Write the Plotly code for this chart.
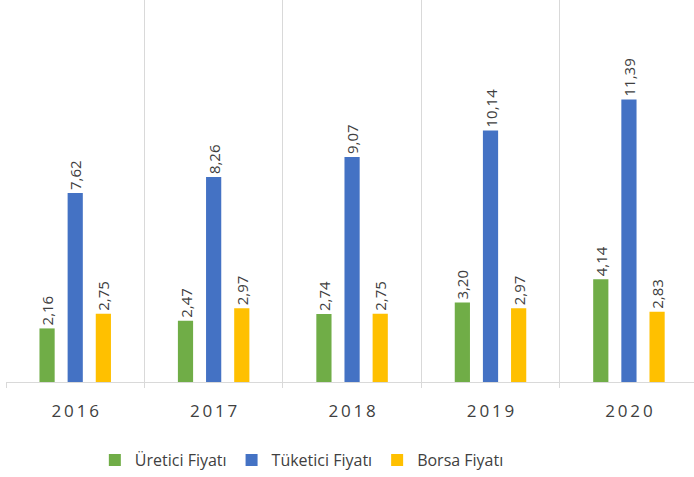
import plotly.graph_objects as go

years = ["2016", "2017", "2018", "2019", "2020"]
year_labels = ["\u2009".join(y) for y in years]
uretici = [2.16, 2.47, 2.74, 3.20, 4.14]
tuketici = [7.62, 8.26, 9.07, 10.14, 11.39]
borsa = [2.75, 2.97, 2.75, 2.97, 2.83]

series = [
    ("Üretici Fiyatı", uretici, "#70AD47"),
    ("Tüketici Fiyatı", tuketici, "#4472C4"),
    ("Borsa Fiyatı", borsa, "#FFC000"),
]

def fmt(v):
    return f"{v:.2f}".replace(".", ",")

fig = go.Figure()
for name, vals, color in series:
    fig.add_trace(go.Bar(
        x=years, y=vals, name=name,
        marker=dict(color=color, line=dict(width=0)),
        text=[fmt(v) for v in vals],
        textposition="outside",
        textangle=-90,
        constraintext="none",
        cliponaxis=False,
        textfont=dict(family="Open Sans", size=15, color="#404040"),
    ))

fig.update_layout(
    width=694, height=477,
    margin=dict(l=6, r=0, t=0, b=90),
    paper_bgcolor="white", plot_bgcolor="white",
    barmode="group", bargap=0.39, bargroupgap=0.46,
    font=dict(family="Open Sans", color="#404040"),
    showlegend=True,
    legend=dict(orientation="h", x=0.43, xanchor="center", y=-0.205, yanchor="middle",
                font=dict(size=16, color="#404040"), itemwidth=30, traceorder="normal"),
    uniformtext=dict(mode=False),
)
fig.update_xaxes(
    type="category", tickson="boundaries", showgrid=True, gridcolor="#D9D9D9", gridwidth=1,
    showline=True, linecolor="#D9D9D9", linewidth=1,
    ticks="outside", ticklen=5, tickcolor="#D9D9D9",
    tickvals=years, ticktext=year_labels,
    tickfont=dict(size=17, color="#404040"), ticklabelstandoff=14,
    range=[-0.5, 4.47],
)
fig.update_yaxes(range=[0, 15.4], showgrid=False, showticklabels=False, zeroline=False, showline=False)

fig.write_html("out.html", config={"displayModeBar": False},
               post_script="document.body.style.margin='0';")
